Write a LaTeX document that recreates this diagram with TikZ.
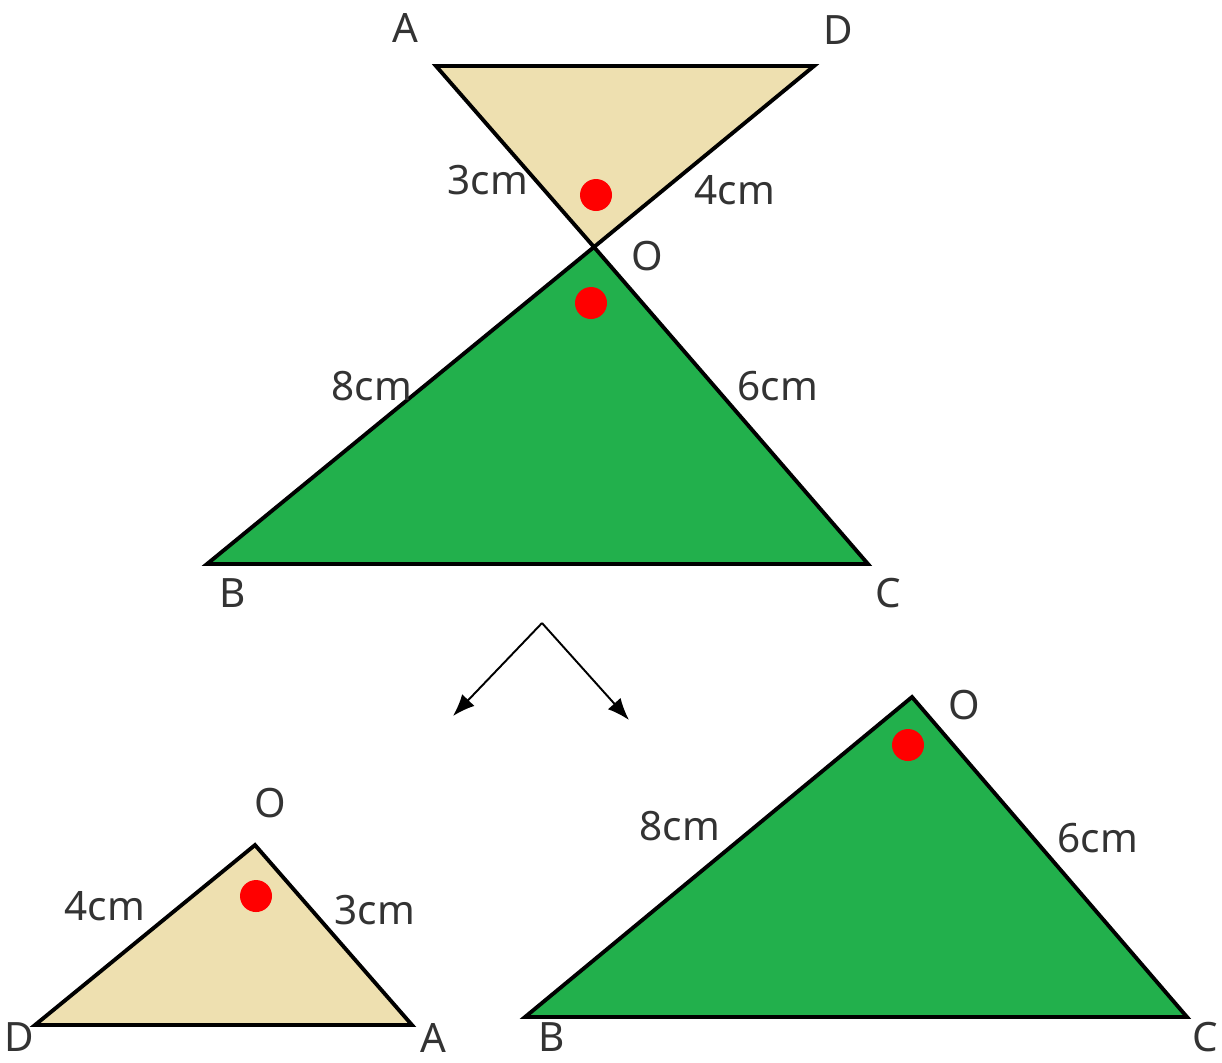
\documentclass[tikz,border=0pt]{standalone}
\usepackage{fontspec}
\setmainfont{Noto Sans}
\usepackage{xcolor}
\usetikzlibrary{arrows.meta}
\definecolor{sand}{RGB}{238,224,176}
\definecolor{leaf}{RGB}{34,176,76}

\begin{document}
\begin{tikzpicture}[
    x=0.01cm, y=-0.01cm,
    font=\fontsize{11.5}{13}\selectfont,
    edge/.style={draw=black, line width=1.1pt, line join=miter},
    small/.style={edge, fill=sand},
    big/.style={edge, fill=leaf},
    angle/.style={fill=red},
    lbl/.style={inner sep=0pt, text=black!80},
    arrow/.style={-{Latex[length=2.2mm, width=1.7mm]}, line width=0.55pt}
]
\useasboundingbox (0,0) rectangle (1222,1062);

% top: the two triangles meeting at O
\coordinate (A) at (436,66);
\coordinate (D) at (814,66);
\coordinate (O) at (594,247);
\coordinate (B) at (207,564);
\coordinate (C) at (868,564);
\path[small] (A) -- (D) -- (O) -- cycle;
\path[big] (O) -- (B) -- (C) -- cycle;
\fill[angle] (596,195) circle (16);
\fill[angle] (591,303) circle (16);

\node[lbl] (lA) at (405,28) {A};
\node[lbl] (lD) at (838,30) {D};
\node[lbl] (lO) at (647,256) {O};
\node[lbl] (lB) at (233,593) {B};
\node[lbl] (lC) at (888,593) {C};
\node[lbl] (lAO) at (488,180) {3cm};
\node[lbl] (lDO) at (735,190) {4cm};
\node[lbl] (lBO) at (372,386) {8cm};
\node[lbl] (lCO) at (778,386) {6cm};

% split arrows
\coordinate (split) at (542,623);
\coordinate (toleft) at (453,716);
\coordinate (toright) at (629,720);
\draw[arrow] (split) -- (toleft);
\draw[arrow] (split) -- (toright);

% bottom left: small triangle
\coordinate (O2) at (255,845);
\coordinate (D2) at (35,1025);
\coordinate (A2) at (412,1025);
\path[small] (O2) -- (D2) -- (A2) -- cycle;
\fill[angle] (256,896) circle (16);
\node[lbl] (lO2) at (270,803) {O};
\node[lbl] (lD2) at (19,1037) {D};
\node[lbl] (lA2) at (433,1038) {A};
\node[lbl] (lDO2) at (105,906) {4cm};
\node[lbl] (lAO2) at (375,910) {3cm};

% bottom right: big triangle
\coordinate (O3) at (912,697);
\coordinate (B3) at (525,1017);
\coordinate (C3) at (1187,1017);
\path[big] (O3) -- (B3) -- (C3) -- cycle;
\fill[angle] (908,745) circle (16);
\node[lbl] (lO3) at (964,705) {O};
\node[lbl] (lB3) at (552,1037) {B};
\node[lbl] (lC3) at (1205,1037) {C};
\node[lbl] (lBO3) at (680,826) {8cm};
\node[lbl] (lCO3) at (1098,838) {6cm};
\end{tikzpicture}
\end{document}
